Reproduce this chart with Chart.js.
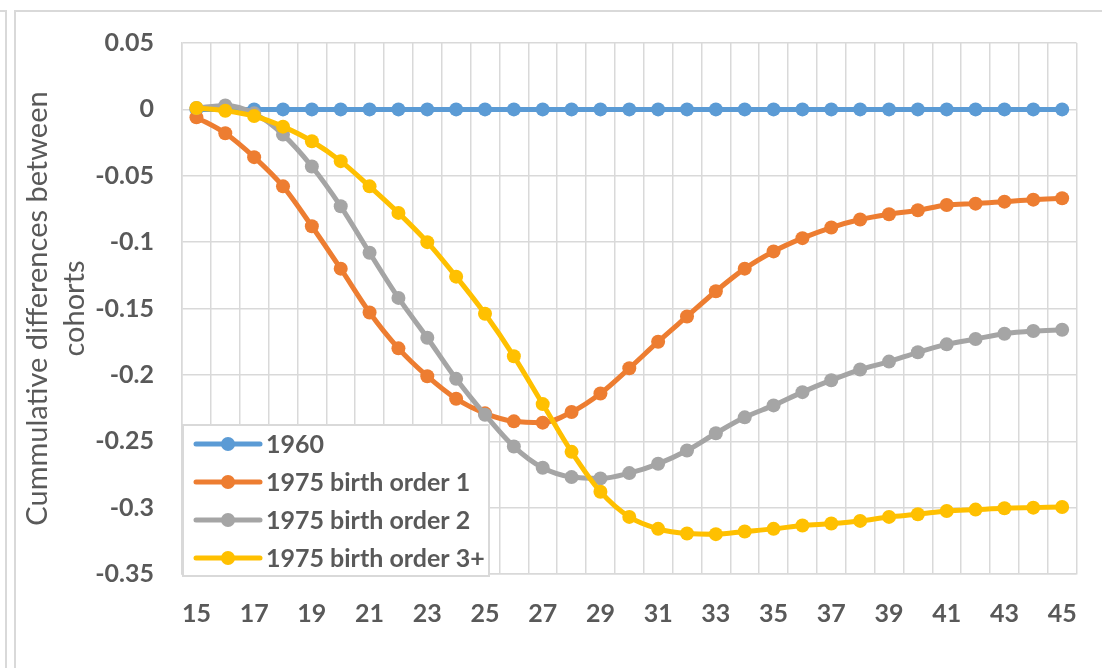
<!DOCTYPE html>
<html lang="en">

<head>
    <meta charset="UTF-8">
    <title>Cummulative differences between cohorts</title>
    <script src="https://cdn.jsdelivr.net/npm/chart.js"></script>
    <style>
        body {
            margin: 0;
            background: #fff;
        }

        .wrap {
            position: relative;
            width: 1102px;
            height: 668px;
            overflow: hidden;
        }

        .pane-edge {
            position: absolute;
            left: 0;
            top: 10px;
            width: 5px;
            height: 700px;
            border-top: 2px solid #d9d9d9;
            border-right: 2px solid #d9d9d9;
        }

        .chart-frame {
            position: absolute;
            left: 14px;
            top: 10px;
            width: 1200px;
            height: 700px;
            border-top: 2px solid #d9d9d9;
            border-left: 2px solid #d9d9d9;
        }

        canvas {
            position: absolute;
            left: 0;
            top: 0;
        }
    </style>
</head>

<body>
    <div class="wrap">
        <div class="pane-edge"></div>
        <div class="chart-frame"></div>
        <canvas id="cohortChart" width="1102" height="668"></canvas>
    </div>

    <script>
        // Âges (axe des x)
        const ages = [15, 16, 17, 18, 19, 20, 21, 22, 23, 24, 25, 26, 27, 28, 29, 30,
            31, 32, 33, 34, 35, 36, 37, 38, 39, 40, 41, 42, 43, 44, 45];

        const seriesNames = ['1960', '1975 birth order 1', '1975 birth order 2', '1975 birth order 3+'];
        const seriesColors = ['#5b9bd5', '#ed7d31', '#a5a5a5', '#ffc000'];

        const cohort1960 = [0, 0, 0, 0, 0, 0, 0, 0, 0, 0, 0, 0, 0, 0, 0, 0,
            0, 0, 0, 0, 0, 0, 0, 0, 0, 0, 0, 0, 0, 0, 0];
        const order1 = [-0.006, -0.018, -0.036, -0.058, -0.088, -0.120, -0.153, -0.180, -0.201, -0.218,
            -0.229, -0.235, -0.236, -0.228, -0.214, -0.195, -0.175, -0.156, -0.137, -0.120,
            -0.107, -0.097, -0.089, -0.083, -0.079, -0.076, -0.072, -0.071, -0.0695, -0.068, -0.067];
        const order2 = [0.001, 0.003, -0.003, -0.019, -0.043, -0.073, -0.108, -0.142, -0.172, -0.203,
            -0.230, -0.254, -0.270, -0.277, -0.278, -0.274, -0.267, -0.257, -0.244, -0.232,
            -0.223, -0.213, -0.204, -0.196, -0.190, -0.183, -0.177, -0.173, -0.169, -0.167, -0.166];
        const order3 = [0.001, -0.001, -0.005, -0.013, -0.024, -0.039, -0.058, -0.078, -0.100, -0.126,
            -0.154, -0.186, -0.222, -0.258, -0.288, -0.307, -0.316, -0.3195, -0.320, -0.318,
            -0.316, -0.3135, -0.312, -0.310, -0.307, -0.305, -0.3025, -0.3015, -0.3005, -0.300, -0.2995];

        const yMin = -0.35;
        const yMax = 0.05;
        const yStep = 0.05;
        const yTitle = ['Cummulative differences between', 'cohorts'];

        const textColor = '#595959';
        const gridColor = '#d9d9d9';

        // Légende dessinée à l'intérieur de la zone du graphique
        const insideLegend = {
            id: 'insideLegend',
            afterDatasetsDraw(chart) {
                const ctx = chart.ctx;
                const area = chart.chartArea;
                const x0 = area.left + 1;
                const w = 306;
                const rowH = 38;
                const h = 151;
                const y0 = area.bottom + 2 - h;

                ctx.save();
                ctx.fillStyle = '#fff';
                ctx.fillRect(x0, y0, w, h);
                ctx.strokeStyle = gridColor;
                ctx.lineWidth = 2;
                ctx.strokeRect(x0, y0, w, h);

                ctx.font = 'bold 25px Lato';
                ctx.textBaseline = 'middle';
                ctx.textAlign = 'left';
                chart.data.datasets.forEach((ds, i) => {
                    const cy = y0 + 19 + i * rowH;
                    ctx.strokeStyle = ds.borderColor;
                    ctx.lineWidth = 5;
                    ctx.lineCap = 'round';
                    ctx.beginPath();
                    ctx.moveTo(x0 + 13, cy);
                    ctx.lineTo(x0 + 77, cy);
                    ctx.stroke();
                    ctx.fillStyle = ds.borderColor;
                    ctx.beginPath();
                    ctx.arc(x0 + 45, cy, 7, 0, Math.PI * 2);
                    ctx.fill();
                    ctx.fillStyle = textColor;
                    ctx.fillText(ds.label, x0 + 83, cy + 1);
                });
                ctx.restore();
            }
        };

        const seriesData = [cohort1960, order1, order2, order3];

        const datasets = seriesData.map((values, i) => ({
            label: seriesNames[i],
            data: values,
            borderColor: seriesColors[i],
            backgroundColor: seriesColors[i],
            borderWidth: 5,
            pointRadius: 7,
            pointHoverRadius: 7,
            pointBorderWidth: 0,
            cubicInterpolationMode: 'monotone',
            order: seriesData.length - i
        }));

        new Chart(document.getElementById('cohortChart'), {
            type: 'line',
            data: {
                labels: ages,
                datasets: datasets
            },
            options: {
                responsive: false,
                animation: false,
                events: [],
                layout: {
                    padding: { top: 43, right: 22, left: 0, bottom: 0 }
                },
                plugins: {
                    legend: { display: false },
                    tooltip: { enabled: false }
                },
                scales: {
                    x: {
                        offset: true,
                        afterFit(scale) { scale.height = 94; },
                        grid: {
                            offset: true,
                            color: gridColor,
                            lineWidth: 1.5,
                            drawTicks: false
                        },
                        border: { color: gridColor, width: 1.5 },
                        ticks: {
                            autoSkip: false,
                            maxRotation: 0,
                            padding: 25,
                            color: textColor,
                            font: { family: 'Lato', size: 25, weight: 'bold' },
                            callback(value, index) {
                                return index % 2 === 0 ? this.getLabelForValue(value) : '';
                            }
                        }
                    },
                    y: {
                        min: yMin,
                        max: yMax,
                        afterFit(scale) { scale.width = 182; },
                        grid: {
                            color: gridColor,
                            lineWidth: 1.5,
                            drawTicks: false
                        },
                        border: { color: gridColor, width: 1.5 },
                        ticks: {
                            stepSize: yStep,
                            padding: 28,
                            color: textColor,
                            font: { family: 'Lato', size: 25, weight: 'bold' },
                            callback(value) {
                                return String(Number(value.toFixed(2)));
                            }
                        },
                        title: {
                            display: true,
                            text: yTitle,
                            color: textColor,
                            font: { family: 'Lato', size: 29, lineHeight: 1.25 },
                            padding: { top: 20 }
                        }
                    }
                }
            },
            plugins: [insideLegend]
        });
    </script>
</body>

</html>
